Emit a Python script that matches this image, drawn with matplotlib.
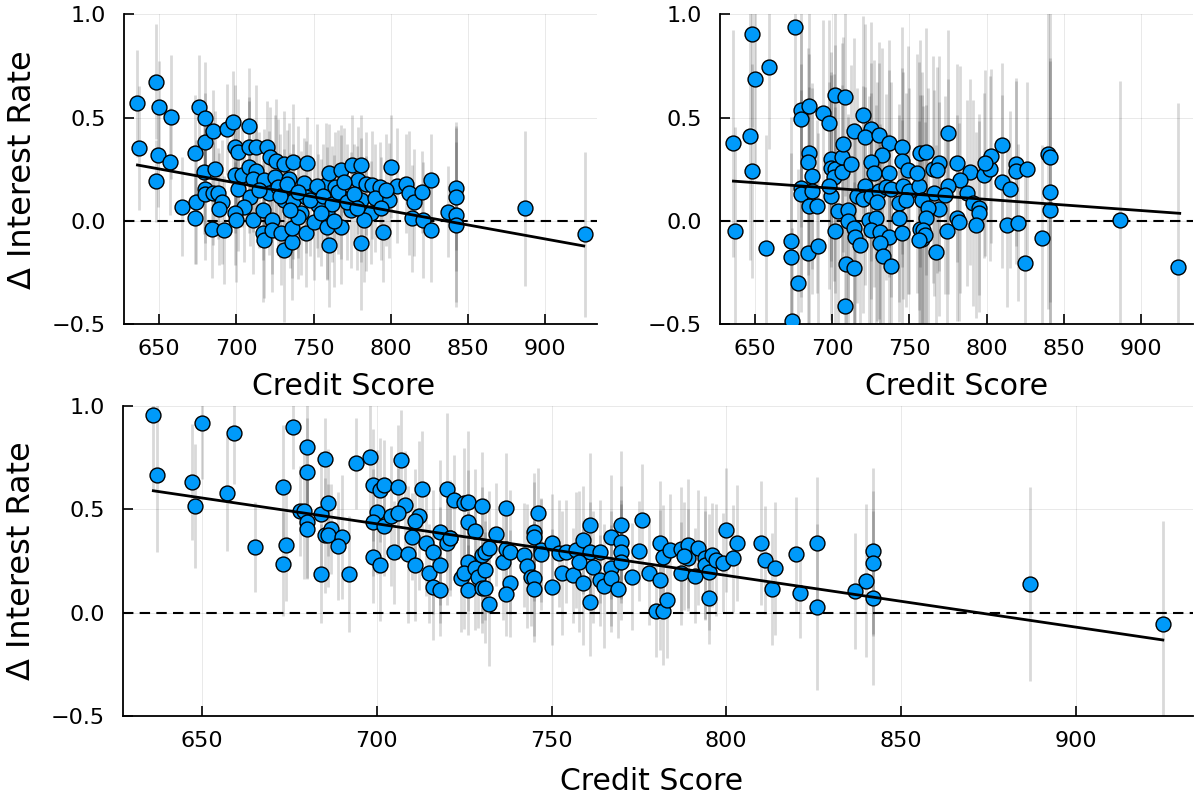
import numpy as np
import matplotlib
matplotlib.use('Agg')
import matplotlib.pyplot as plt

# ---- data ----
# top-left panel
x_tl = [636, 637, 648, 650, 649, 648, 658, 657, 665, 673,
        673, 674, 676, 680, 680, 685, 679, 680, 686, 680,
        685, 688, 691, 689, 684, 692, 694, 698, 708, 699,
        701, 708, 713, 699, 704, 708, 713, 711, 701, 709,
        705, 699, 700, 711, 717, 717, 718, 718, 721, 720,
        722, 726, 731, 737, 746, 725, 734, 727, 731, 737,
        723, 723, 729, 731, 736, 736, 742, 744, 745, 745,
        750, 753, 758, 760, 764, 760, 759, 759, 768, 768,
        768, 775, 774, 779, 781, 781, 784, 784, 781, 788,
        793, 800, 804, 810, 812, 815, 820, 826, 799, 787,
        795, 783, 814, 821, 826, 837, 842, 842, 842, 842,
        715, 728, 733, 740, 748, 752, 756, 762, 766, 770,
        772, 776, 778, 790, 794, 797, 740, 735, 755, 763,
        887, 926]
y_tl = [0.569, 0.351, 0.674, 0.552, 0.317, 0.192, 0.501, 0.286, 0.068, 0.327,
        0.012, 0.092, 0.552, 0.499, 0.380, 0.435, 0.234, 0.154, 0.250, 0.128,
        0.133, 0.133, 0.092, 0.058, -0.039, -0.045, 0.443, 0.477, 0.460, 0.359,
        0.331, 0.359, 0.359, 0.221, 0.221, 0.262, 0.240, 0.204, 0.153, 0.116,
        0.068, 0.036, 0.004, 0.004, 0.052, -0.061, -0.093, 0.196, 0.133, 0.359,
        0.310, 0.289, 0.273, 0.286, 0.281, 0.213, 0.204, 0.162, 0.099, 0.094,
        0.004, -0.045, -0.061, -0.142, -0.102, -0.037, 0.036, 0.181, 0.116, -0.061,
        -0.006, 0.075, 0.173, 0.229, 0.162, -0.118, -0.028, 0.036, 0.245, -0.028,
        0.116, 0.270, 0.052, 0.196, 0.099, -0.110, 0.180, 0.036, 0.270, 0.173,
        0.162, 0.262, 0.170, 0.180, 0.133, 0.089, 0.139, 0.198, 0.099, 0.039,
        -0.056, 0.004, 0.011, 0.004, -0.046, 0.044, 0.028, -0.019, 0.157, 0.116,
        0.150, 0.120, 0.180, 0.140, 0.100, 0.170, 0.120, 0.080, 0.140, 0.190,
        0.090, 0.130, 0.060, 0.110, 0.060, 0.150, 0.020, 0.050, 0.040, 0.000,
        0.060, -0.066]
err_tl = [0.26, 0.30, 0.28, 0.22, 0.25, 0.20, 0.30, 0.26, 0.24, 0.28,
          0.22, 0.30, 0.25, 0.27, 0.24, 0.20, 0.30, 0.26, 0.28, 0.32,
          0.25, 0.22, 0.30, 0.27, 0.24, 0.26, 0.22, 0.25, 0.28, 0.30,
          0.26, 0.24, 0.30, 0.28, 0.25, 0.32, 0.22, 0.26, 0.30, 0.24,
          0.27, 0.25, 0.30, 0.26, 0.24, 0.33, 0.28, 0.25, 0.30, 0.22,
          0.24, 0.30, 0.26, 0.28, 0.22, 0.30, 0.27, 0.33, 0.25, 0.28,
          0.26, 0.30, 0.25, 0.35, 0.28, 0.24, 0.30, 0.22, 0.27, 0.26,
          0.28, 0.25, 0.30, 0.24, 0.27, 0.30, 0.26, 0.32, 0.22, 0.28,
          0.30, 0.24, 0.28, 0.26, 0.30, 0.32, 0.25, 0.28, 0.24, 0.26,
          0.22, 0.25, 0.28, 0.24, 0.30, 0.26, 0.20, 0.22, 0.28, 0.25,
          0.24, 0.30, 0.26, 0.28, 0.25, 0.22, 0.42, 0.40, 0.30, 0.36,
          0.28, 0.30, 0.26, 0.32, 0.27, 0.30, 0.25, 0.28, 0.30, 0.26,
          0.28, 0.24, 0.30, 0.26, 0.25, 0.27, 0.30, 0.28, 0.26, 0.32,
          0.375, 0.40]

# top-right panel
x_tr = [636, 637, 648, 650, 647, 648, 659, 657, 676, 673,
        673, 674, 678, 680, 680, 685, 680, 680, 685, 684,
        687, 687, 685, 690, 684, 691, 694, 698, 702, 708,
        699, 699, 702, 701, 706, 706, 712, 707, 714, 699,
        698, 704, 710, 702, 710, 714, 715, 718, 709, 714,
        708, 720, 725, 721, 730, 737, 745, 732, 725, 727,
        737, 745, 749, 716, 721, 720, 725, 730, 735, 738,
        746, 750, 729, 743, 748, 724, 728, 743, 725, 731,
        737, 745, 731, 733, 738, 757, 758, 757, 756, 775,
        761, 755, 765, 769, 768, 781, 789, 783, 775, 766,
        773, 758, 787, 791, 795, 795, 769, 762, 761, 781,
        782, 793, 759, 760, 756, 774, 767, 798, 802, 803,
        799, 810, 810, 815, 819, 819, 826, 813, 820, 836,
        825, 840, 841, 841, 841, 886, 924]
y_tr = [0.375, -0.048, 0.903, 0.687, 0.412, 0.241, 0.746, -0.134, 0.937, -0.098,
        -0.174, -0.485, -0.300, 0.536, 0.491, 0.555, 0.160, 0.131, 0.330, 0.286,
        0.218, 0.144, 0.070, 0.070, -0.155, -0.123, 0.520, 0.472, 0.609, 0.598,
        0.297, 0.257, 0.250, 0.210, 0.237, 0.311, 0.275, 0.370, 0.435, 0.121,
        0.170, 0.048, 0.053, -0.048, -0.002, -0.035, -0.078, -0.115, -0.211, -0.230,
        -0.413, 0.512, 0.443, 0.404, 0.416, 0.375, 0.356, 0.319, 0.283, 0.230,
        0.230, 0.290, 0.245, 0.121, 0.170, 0.105, 0.120, 0.142, 0.162, 0.153,
        0.170, 0.145, 0.093, 0.085, 0.100, 0.004, 0.011, 0.011, -0.045, -0.053,
        -0.080, -0.060, -0.109, -0.173, -0.218, -0.040, -0.090, 0.326, 0.170, 0.426,
        0.335, 0.230, 0.250, 0.278, 0.245, 0.278, 0.237, 0.198, 0.166, 0.134,
        0.126, 0.100, 0.134, 0.085, 0.061, 0.037, 0.057, 0.062, 0.013, 0.013,
        -0.005, -0.020, -0.045, -0.070, -0.095, -0.048, -0.153, 0.221, 0.253, 0.313,
        0.278, 0.366, 0.190, 0.153, 0.277, 0.240, 0.253, -0.020, -0.010, -0.085,
        -0.206, 0.323, 0.307, 0.140, 0.054, 0.006, -0.222]
err_tr = [0.55, 0.50, 0.45, 0.48, 0.60, 0.52, 0.40, 0.55, 0.45, 0.60,
          0.50, 0.45, 0.55, 0.40, 0.52, 0.45, 0.60, 0.50, 0.48, 0.55,
          0.45, 0.50, 0.58, 0.42, 0.50, 0.55, 0.45, 0.50, 0.40, 0.48,
          0.52, 0.45, 0.60, 0.50, 0.42, 0.55, 0.48, 0.52, 0.45, 0.60,
          0.50, 0.55, 0.45, 0.60, 0.52, 0.48, 0.55, 0.50, 0.45, 0.42,
          0.40, 0.48, 0.52, 0.55, 0.45, 0.50, 0.58, 0.52, 0.48, 0.55,
          0.50, 0.45, 0.60, 0.52, 0.48, 0.55, 0.50, 0.62, 0.45, 0.52,
          0.55, 0.50, 0.58, 0.48, 0.52, 0.60, 0.55, 0.50, 0.48, 0.52,
          0.50, 0.55, 0.48, 0.52, 0.45, 0.65, 0.70, 0.55, 0.60, 0.50,
          0.60, 0.58, 0.55, 0.52, 0.50, 0.48, 0.45, 0.55, 0.52, 0.50,
          0.48, 0.62, 0.45, 0.50, 0.42, 0.48, 0.52, 0.58, 0.55, 0.50,
          0.48, 0.45, 0.60, 0.55, 0.58, 0.50, 0.52, 0.40, 0.45, 0.42,
          0.45, 0.40, 0.42, 0.38, 0.40, 0.45, 0.42, 0.40, 0.38, 0.45,
          0.48, 0.75, 0.70, 0.65, 0.72, 0.67, 0.79]

# bottom panel
x_bot = [636, 637, 650, 647, 648, 659, 657, 665, 673, 674,
         673, 676, 680, 680, 678, 679, 680, 680, 684, 686,
         685, 684, 685, 687, 686, 690, 689, 692, 694, 698,
         699, 701, 702, 700, 699, 702, 704, 699, 701, 705,
         707, 706, 708, 706, 712, 711, 713, 709, 710, 711,
         714, 716, 715, 718, 716, 718, 718, 720, 721, 720,
         721, 722, 725, 726, 726, 728, 730, 726, 724, 725,
         726, 728, 729, 730, 731, 732, 731, 730, 731, 732,
         734, 736, 737, 738, 738, 737, 737, 742, 743, 744,
         745, 745, 745, 745, 746, 747, 747, 750, 750, 752,
         753, 754, 756, 757, 758, 759, 761, 759, 761, 761,
         762, 764, 764, 765, 767, 767, 769, 767, 770, 770,
         770, 770, 773, 775, 776, 778, 781, 781, 780, 782,
         783, 782, 784, 787, 789, 789, 788, 792, 787, 791,
         794, 794, 795, 796, 797, 799, 795, 800, 803, 802,
         810, 811, 814, 813, 820, 821, 826, 826, 837, 840,
         842, 842, 842, 887, 925]
y_bot = [0.956, 0.666, 0.919, 0.634, 0.515, 0.871, 0.580, 0.318, 0.608, 0.329,
         0.236, 0.897, 0.800, 0.682, 0.492, 0.492, 0.440, 0.405, 0.478, 0.532,
         0.742, 0.189, 0.374, 0.405, 0.374, 0.368, 0.323, 0.186, 0.723, 0.752,
         0.618, 0.594, 0.618, 0.489, 0.437, 0.419, 0.469, 0.269, 0.231, 0.292,
         0.740, 0.607, 0.521, 0.481, 0.469, 0.444, 0.597, 0.282, 0.368, 0.231,
         0.339, 0.292, 0.191, 0.231, 0.126, 0.108, 0.389, 0.597, 0.360, 0.336,
         0.363, 0.545, 0.529, 0.537, 0.440, 0.395, 0.518, 0.247, 0.166, 0.191,
         0.110, 0.218, 0.174, 0.279, 0.295, 0.311, 0.206, 0.121, 0.121, 0.040,
         0.379, 0.247, 0.308, 0.292, 0.142, 0.089, 0.505, 0.279, 0.226, 0.174,
         0.166, 0.116, 0.392, 0.368, 0.481, 0.303, 0.282, 0.336, 0.126, 0.287,
         0.191, 0.295, 0.182, 0.303, 0.247, 0.352, 0.424, 0.142, 0.050, 0.295,
         0.222, 0.295, 0.158, 0.131, 0.214, 0.166, 0.116, 0.368, 0.424, 0.344,
         0.295, 0.247, 0.174, 0.299, 0.448, 0.191, 0.339, 0.158, 0.008, 0.008,
         0.061, 0.270, 0.303, 0.308, 0.327, 0.263, 0.275, 0.315, 0.191, 0.179,
         0.263, 0.231, 0.198, 0.279, 0.255, 0.242, 0.070, 0.400, 0.339, 0.263,
         0.339, 0.255, 0.214, 0.116, 0.282, 0.097, 0.336, 0.028, 0.105, 0.155,
         0.299, 0.239, 0.070, 0.139, -0.055]
err_bot = [0.36, 0.37, 0.27, 0.28, 0.30, 0.25, 0.28, 0.22, 0.30, 0.27,
           0.25, 0.20, 0.30, 0.26, 0.22, 0.33, 0.27, 0.24, 0.30, 0.26,
           0.20, 0.24, 0.28, 0.22, 0.25, 0.30, 0.26, 0.28, 0.22, 0.30,
           0.27, 0.25, 0.22, 0.30, 0.26, 0.24, 0.34, 0.22, 0.27, 0.25,
           0.24, 0.30, 0.26, 0.22, 0.36, 0.25, 0.28, 0.33, 0.21, 0.27,
           0.26, 0.30, 0.24, 0.28, 0.26, 0.22, 0.35, 0.37, 0.25, 0.30,
           0.28, 0.22, 0.27, 0.34, 0.25, 0.30, 0.26, 0.24, 0.26, 0.27,
           0.22, 0.30, 0.25, 0.33, 0.26, 0.28, 0.24, 0.22, 0.27, 0.30,
           0.25, 0.28, 0.23, 0.30, 0.26, 0.20, 0.27, 0.25, 0.30, 0.24,
           0.28, 0.26, 0.24, 0.31, 0.22, 0.25, 0.27, 0.24, 0.28, 0.26,
           0.30, 0.25, 0.23, 0.28, 0.34, 0.26, 0.35, 0.30, 0.26, 0.24,
           0.27, 0.25, 0.22, 0.30, 0.28, 0.26, 0.24, 0.30, 0.36, 0.27,
           0.25, 0.28, 0.26, 0.24, 0.27, 0.25, 0.30, 0.34, 0.22, 0.26,
           0.28, 0.25, 0.27, 0.30, 0.32, 0.24, 0.26, 0.28, 0.25, 0.23,
           0.30, 0.26, 0.28, 0.25, 0.27, 0.24, 0.22, 0.30, 0.28, 0.26,
           0.30, 0.26, 0.32, 0.27, 0.28, 0.22, 0.32, 0.40, 0.28, 0.37,
           0.40, 0.35, 0.42, 0.47, 0.50]

# fitted lines (values at the ends of the credit score range)
fit_x = [636, 925]
fit_tl = [0.270, -0.122]
fit_tr = [0.192, 0.036]
fit_bot = [0.590, -0.132]

xticks = [650, 700, 750, 800, 850, 900]
yticks = [-0.5, 0.0, 0.5, 1.0]

# ---- figure ----
fig = plt.figure(figsize=(11.96, 8.02), dpi=100)
ax_tl = fig.add_axes([0.1037, 0.596, 0.3955, 0.3862])
ax_tr = fig.add_axes([0.602, 0.596, 0.3955, 0.3862])
ax_bot = fig.add_axes([0.1028, 0.1072, 0.8946, 0.3865])

panels = [
    (ax_tl, x_tl, y_tl, err_tl, fit_tl, True),
    (ax_tr, x_tr, y_tr, err_tr, fit_tr, False),
    (ax_bot, x_bot, y_bot, err_bot, fit_bot, True),
]

for ax, xs, ys, es, fit, show_ylabel in panels:
    ax.errorbar(xs, ys, yerr=es, fmt='none', ecolor='black', alpha=0.15,
                elinewidth=2, zorder=1)
    ax.axhline(0, color='black', lw=1.5, ls=(0, (5, 3)), zorder=2)
    ax.scatter(xs, ys, s=115, color='#009AFA', edgecolors='black',
               linewidths=1, zorder=3)
    ax.plot(fit_x, fit, color='black', lw=2, zorder=4)

    ax.set_xlim(627.3, 933.6)
    ax.set_ylim(-0.5, 1.0)
    ax.set_xticks(xticks)
    ax.set_yticks(yticks)
    ax.grid(True, color='black', alpha=0.1, lw=0.6)
    ax.set_axisbelow(True)
    for side in ['top', 'right']:
        ax.spines[side].set_visible(False)
    for side in ['left', 'bottom']:
        ax.spines[side].set_linewidth(1.3)
    ax.tick_params(direction='in', length=7.5, width=1.2, labelsize=16)
    ax.tick_params(axis='x', pad=11)
    ax.tick_params(axis='y', pad=13)

    ax.set_xlabel('Credit Score', fontsize=21.5)
    if show_ylabel:
        ax.set_ylabel('Δ Interest Rate', fontsize=23)

ax_tl.xaxis.set_label_coords(0.465, -0.155)
ax_tr.xaxis.set_label_coords(0.5, -0.155)
ax_bot.xaxis.set_label_coords(0.494, -0.165)
ax_tl.yaxis.set_label_coords(-0.182, 0.5)
ax_bot.yaxis.set_label_coords(-0.080, 0.5)

fig.savefig('out.png', dpi=100)
